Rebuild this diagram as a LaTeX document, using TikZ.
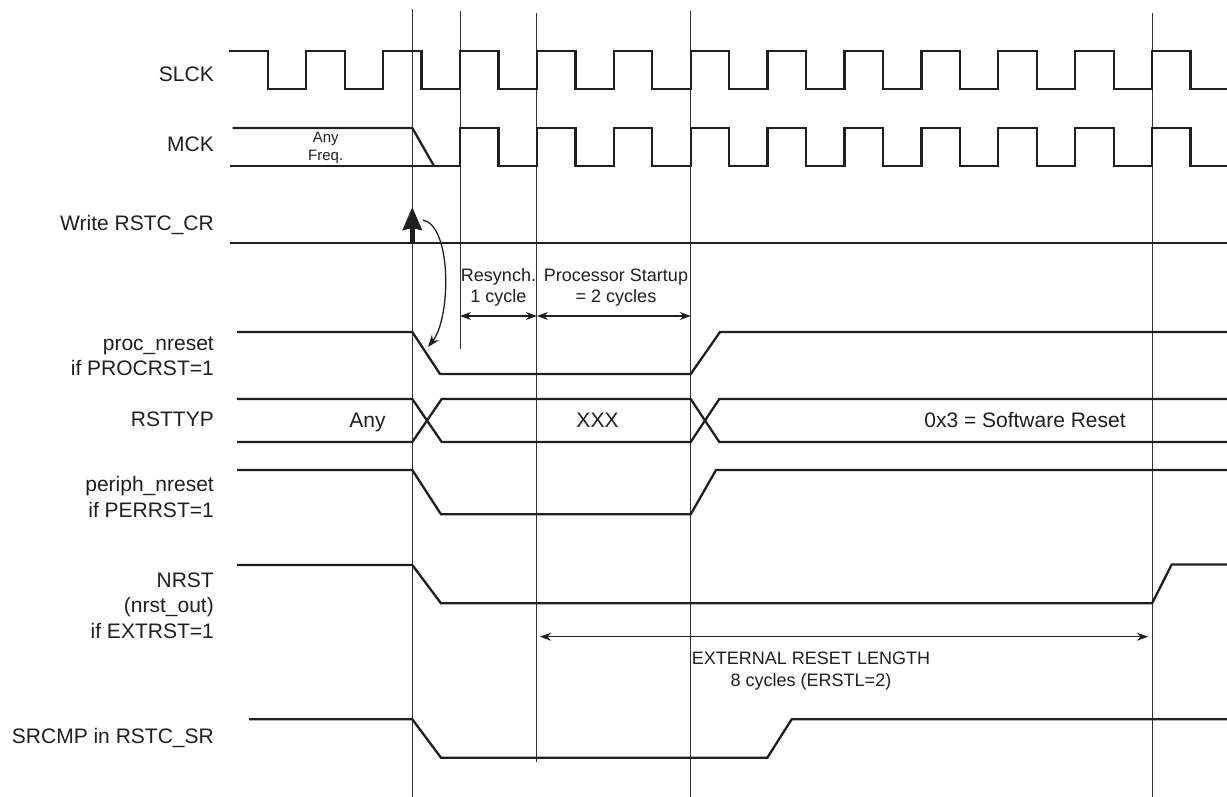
\documentclass[tikz,border=0pt]{standalone}
\usepackage{fontspec}
\setmainfont{Liberation Sans}
\usetikzlibrary{arrows.meta}
\begin{document}
\begin{tikzpicture}[x=1pt,y=-1pt,
  sig/.style={line width=2.3pt, color=black!88, line join=miter},
  gridline/.style={line width=0.9pt, color=black!80},
  lbl/.style={anchor=base east, align=right, font=\fontsize{21}{25.5}\selectfont, text=black!88, inner sep=0pt},
  val/.style={anchor=base, font=\fontsize{21}{25}\selectfont, text=black!88, inner sep=0pt},
  ann/.style={anchor=base, align=center, font=\fontsize{18}{21}\selectfont, text=black!88, inner sep=0pt},
  dimarrow/.style={line width=1.1pt, color=black!88, {Stealth[length=11pt,width=8pt]}-{Stealth[length=11pt,width=8pt]}},
]
\useasboundingbox (0,0) rectangle (1227,797);

% signal names (base = baseline of the last line)
\node[lbl] (lslck) at (214,81.5) {SLCK};
\node[lbl] (lmck) at (214,152) {MCK};
\node[lbl] (lwr) at (214,230.7) {Write RSTC\_CR};
\node[lbl] (lproc) at (214,375.5) {proc\_nreset\\if PROCRST=1};
\node[lbl] (ltyp) at (214,426.7) {RSTTYP};
\node[lbl] (lper) at (214,517) {periph\_nreset\\if PERRST=1};
\node[lbl] (lnrst) at (214,638) {NRST\\(nrst\_out)\\if EXTRST=1};
\node[lbl] (lsr) at (214,743) {SRCMP in RSTC\_SR};

% vertical reference lines
\draw[gridline] (412.3,9) -- (412.3,797);
\draw[gridline] (460,11) -- (460,349);
\draw[gridline] (536.9,13) -- (536.9,762);
\draw[gridline] (690.7,11) -- (690.7,797);
\draw[gridline] (1152.1,13) -- (1152.1,797);

% SLCK
\draw[sig] (229,51) \foreach \k in {-2,...,9} { -- ({421.55+76.9*\k},51) -- ({421.55+76.9*\k},89) -- ({460+76.9*\k},89) -- ({460+76.9*\k},51) } -- (1190.55,51) -- (1190.55,89) -- (1227,89);

% MCK
\draw[sig] (232.7,128) -- (412.3,128) -- (434,166);
\draw[sig] (230,166) \foreach \k in {0,...,9} { -- ({460+76.9*\k},166) -- ({460+76.9*\k},128) -- ({498.45+76.9*\k},128) -- ({498.45+76.9*\k},166) } -- (1227,166);
\node[anchor=base, align=center, font=\fontsize{15}{18}\selectfont, text=black!88, inner sep=0pt] (anyf) at (325.7,161) {Any\\Freq.};

% Write RSTC_CR
\draw[sig] (230,243.3) -- (1227,243.3);
\draw[line width=4.5pt, color=black!88, -{Stealth[length=23pt,width=19pt,inset=2pt]}] (412.3,243.3) -- (412.3,207);
\draw[line width=1.3pt, color=black!88, -{Stealth[length=12pt,width=9pt]}] (423,220) .. controls (452,226) and (451,318) .. (428,347);

% annotations
\node[ann] (resy) at (498.5,302.7) {Resynch.\\1 cycle};
\node[ann] (pstart) at (616,302.7) {Processor Startup\\= 2 cycles};
\draw[dimarrow] (460,316) -- (536.9,316);
\draw[dimarrow] (536.9,316) -- (690.7,316);

% proc_nreset
\draw[sig] (237,332) -- (412.3,332) -- (440,374) -- (690.7,374) -- (720,332) -- (1227,332);

% RSTTYP
\draw[sig] (237,399) -- (412.3,399) -- (441.7,442) -- (690.7,442) -- (719.3,399) -- (1227,399);
\draw[sig] (237,442) -- (412.3,442) -- (441.7,399) -- (690.7,399) -- (719.3,442) -- (1227,442);
\node[val] (vany) at (367.5,427) {Any};
\node[val] (vxxx) at (597.5,427) {XXX};
\node[val] (vsw) at (1025,427) {0x3 = Software Reset};

% periph_nreset
\draw[sig] (237,470) -- (412.3,470) -- (441,514.3) -- (690.7,514.3) -- (716,470) -- (1227,470);

% NRST
\draw[sig] (237,565) -- (412.3,565) -- (441,603.3) -- (1152.1,603.3) -- (1171.7,564.5) -- (1227,564.5);
\draw[dimarrow] (540,636.7) -- (1148,636.7);
\node[ann, font=\fontsize{18}{22}\selectfont] (ext) at (811,686) {EXTERNAL RESET LENGTH\\8 cycles (ERSTL=2)};

% SRCMP
\draw[sig] (249,719.3) -- (412.3,719.3) -- (441,757.7) -- (767.3,757.7) -- (791.7,719.3) -- (1227,719.3);
\end{tikzpicture}
\end{document}
